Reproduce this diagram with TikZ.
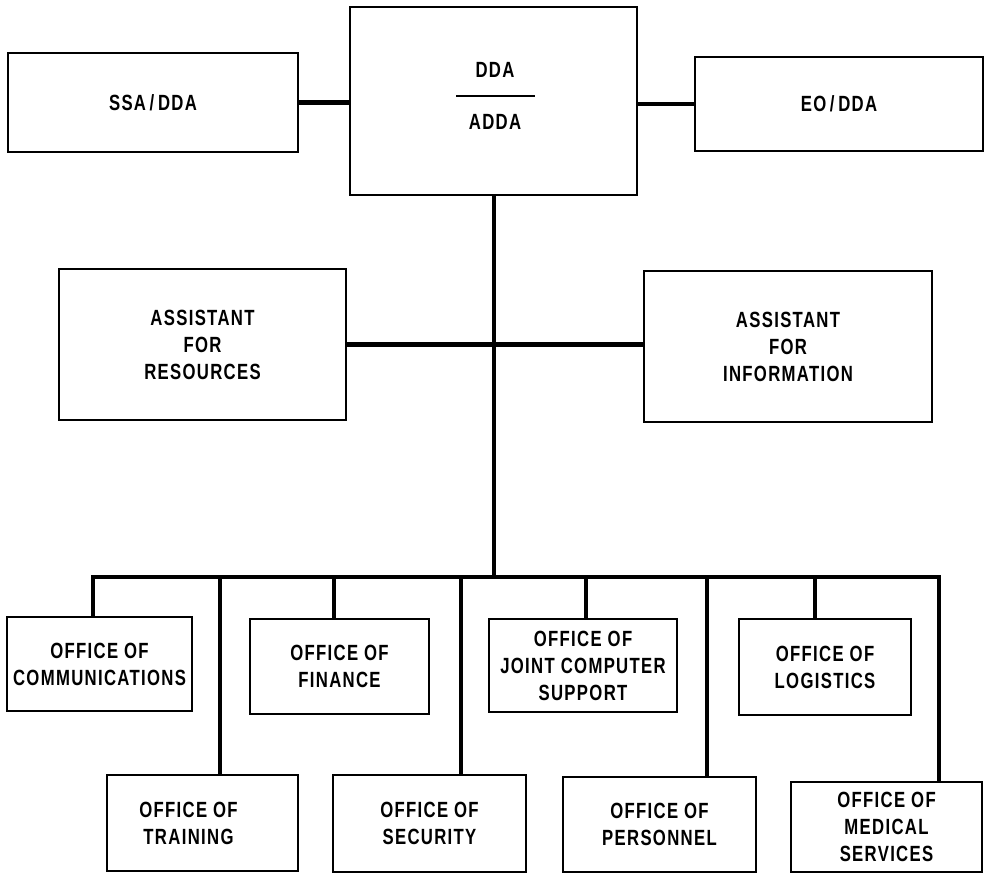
\documentclass[tikz,border=0pt]{standalone}
\usepackage{fontspec}
\newfontfamily\orgfont{Liberation Sans}[FakeStretch=0.76,LetterSpace=6]
\begin{document}
\begin{tikzpicture}[x=1pt,y=-1pt,
  box/.style={draw, line width=1.3pt, rectangle, inner sep=0pt, align=center,
    font=\orgfont\bfseries\fontsize{22}{27}\selectfont},
  lbl/.style={inner sep=0pt, font=\orgfont\bfseries\fontsize{22}{27}\selectfont},
  conn/.style={line width=4.2pt}]
\useasboundingbox[fill=white] (0,0) rectangle (985,873);
% top row
\node[box, minimum width=290pt, minimum height=99pt] (ssa) at (153,102.5) {SSA\,/\,DDA};
\node[box, minimum width=287pt, minimum height=188pt] (dda) at (493.5,101) {};
\node[box, minimum width=288pt, minimum height=94pt] (eo) at (839,104) {EO\,/\,DDA};
\node[lbl] (ddat) at (495,70) {DDA};
\node[lbl] (addat) at (495,122) {ADDA};
\draw[line width=1.8pt] (456,96) -- (535,96);
% assistants
\node[box, minimum width=287pt, minimum height=151pt] (ar) at (202.5,344.5) {ASSISTANT\\FOR\\RESOURCES};
\node[box, minimum width=288pt, minimum height=151pt] (ai) at (788,346.5) {ASSISTANT\\FOR\\INFORMATION};
% offices upper row
\node[box, minimum width=185pt, minimum height=94pt] (comm) at (99.5,664) {OFFICE OF\\COMMUNICATIONS};
\node[box, minimum width=179pt, minimum height=95pt] (fin) at (339.5,666.5) {OFFICE OF\\FINANCE};
\node[box, minimum width=188pt, minimum height=93pt] (jcs) at (583,665.5) {OFFICE OF\\JOINT COMPUTER\\SUPPORT};
\node[box, minimum width=172pt, minimum height=96pt] (log) at (825,667) {OFFICE OF\\LOGISTICS};
% offices lower row
\node[box, minimum width=191pt, minimum height=96pt] (train) at (202.5,823) {OFFICE OF\hspace*{28pt}\\TRAINING\hspace*{28pt}};
\node[box, minimum width=193pt, minimum height=97pt] (sec) at (429.5,823.5) {OFFICE OF\\SECURITY};
\node[box, minimum width=193pt, minimum height=95pt] (pers) at (659.5,824.5) {OFFICE OF\\PERSONNEL};
\node[box, minimum width=191pt, minimum height=90pt] (med) at (886.5,827) {OFFICE OF\\MEDICAL\\SERVICES};
% bus coordinates
\coordinate (trunk) at (494,577);
\coordinate (d1) at (93,577);
\coordinate (d2) at (220,577);
\coordinate (d3) at (334,577);
\coordinate (d4) at (461,577);
\coordinate (d5) at (586,577);
\coordinate (d6) at (707,577);
\coordinate (d7) at (815,577);
\coordinate (d8) at (939,577);
% connectors
\draw[conn] (ssa.east) -- (ssa.east -| dda.west);
\draw[conn] (eo.west -| dda.east) -- (eo.west);
\draw[conn] (dda.south -| trunk) -- (trunk);
\draw[conn] (ar.east) -- (ar.east -| ai.west);
\draw[conn] (d1 |- comm.north) -- (d1) -- (d8) -- (d8 |- med.north);
\draw[conn] (d2) -- (d2 |- train.north);
\draw[conn] (d3) -- (d3 |- fin.north);
\draw[conn] (d4) -- (d4 |- sec.north);
\draw[conn] (d5) -- (d5 |- jcs.north);
\draw[conn] (d6) -- (d6 |- pers.north);
\draw[conn] (d7) -- (d7 |- log.north);
\end{tikzpicture}
\end{document}
